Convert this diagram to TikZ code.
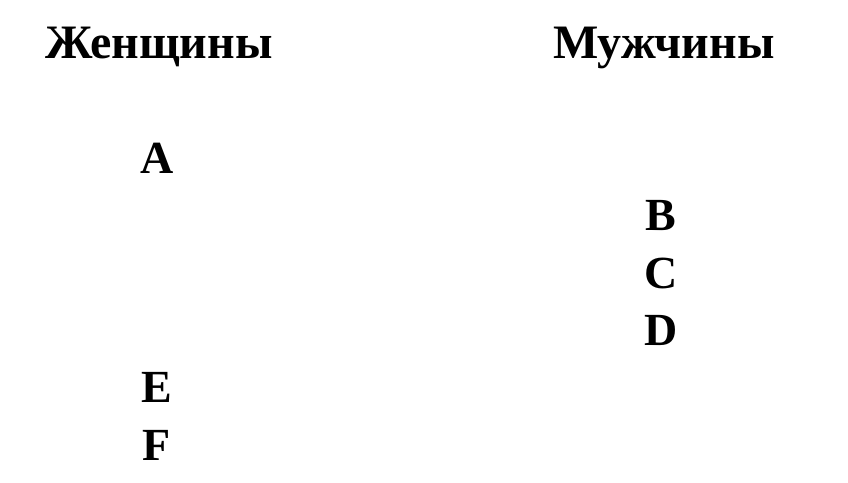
\documentclass[tikz,border=0pt]{standalone}
\usepackage{fontspec}
\setmainfont{Liberation Serif}
\tikzset{every picture/.style={/utils/exec={\bfseries}}}
\tikzset{
	head/.style={anchor=base west, inner sep=0pt, font=\fontsize{48}{50}\selectfont\bfseries},
	letter/.style={anchor=base, inner sep=0pt, font=\fontsize{46}{50}\selectfont\bfseries}
}

\begin{document}
\begin{tikzpicture}[x=1pt, y=-1pt]
		\useasboundingbox (0,0) rectangle (848,482);

		\node[head] (women) at (45, 58) {Женщины};
		\node[head] (men) at (553, 58) {Мужчины};

		\node[letter] (a) at (157, 173) {A};
		\node[letter] (e) at (157, 402) {E};
		\node[letter] (f) at (157, 460) {F};

		\node[letter] (b) at (661, 230) {B};
		\node[letter] (c) at (661, 288) {C};
		\node[letter] (d) at (661, 345) {D};

	\end{tikzpicture}
\end{document}
